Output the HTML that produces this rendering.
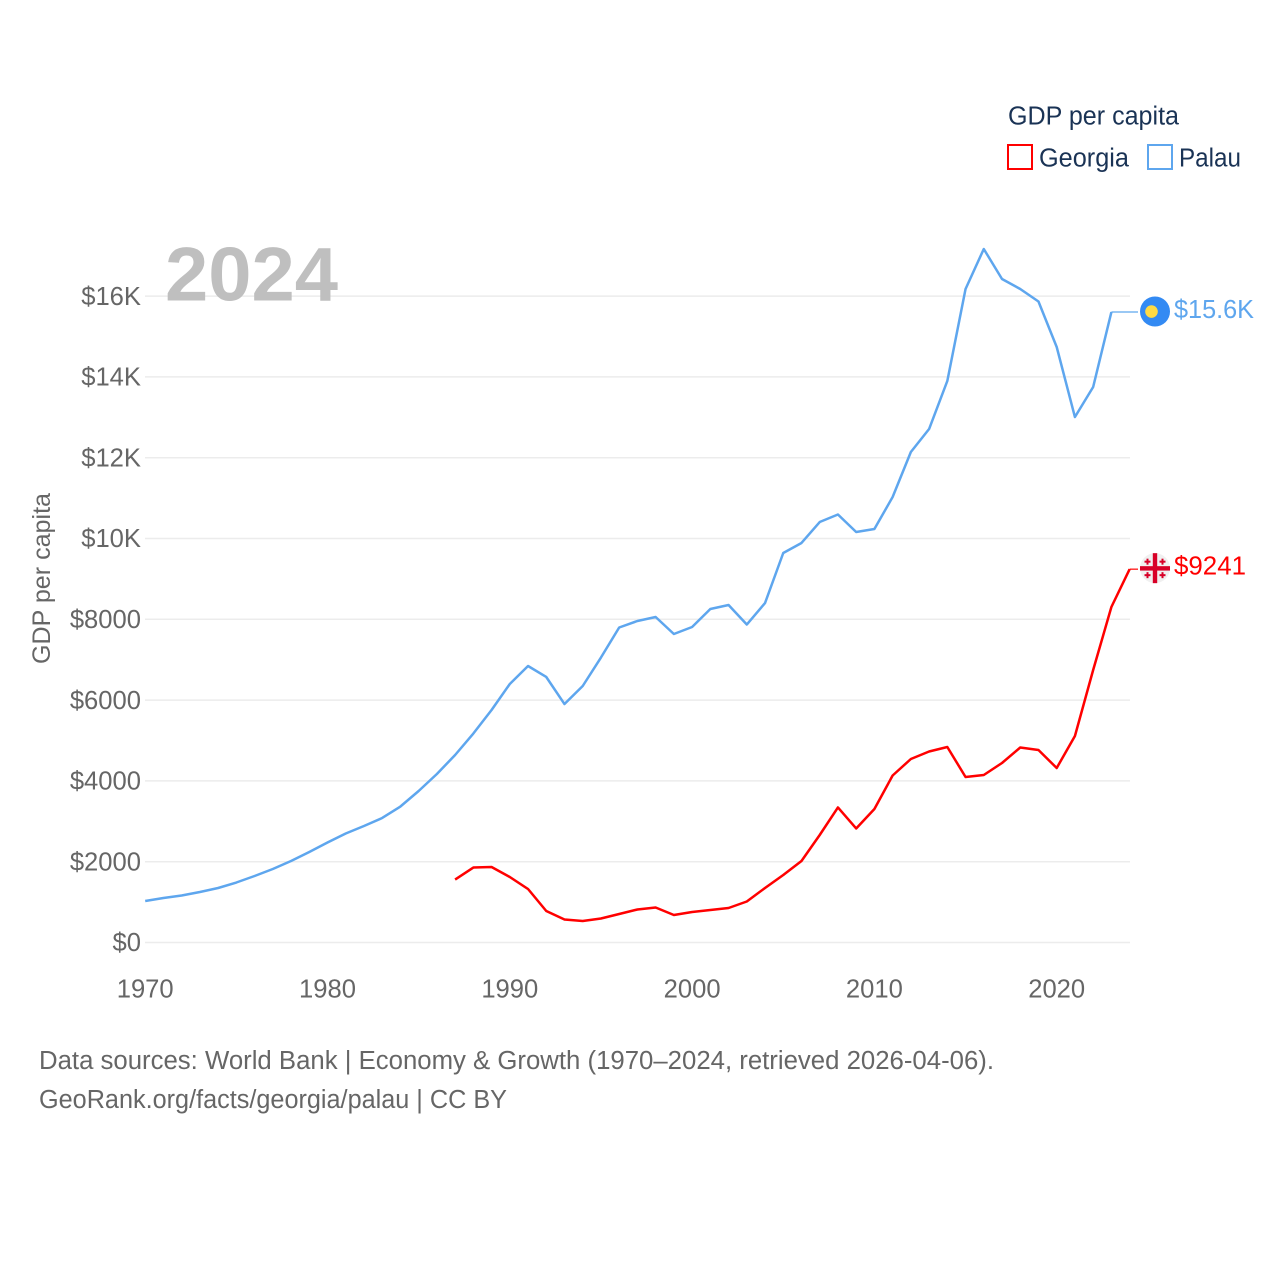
<!DOCTYPE html>
<html lang="en">
<head>
<meta charset="utf-8">
<title>GDP per capita: Georgia and Palau</title>
<style>
html,body{margin:0;padding:0;background:#fff;}
svg{display:block;font-family:"Liberation Sans",sans-serif;}
</style>
</head>
<body>
<svg id="chart" xmlns="http://www.w3.org/2000/svg" width="1280" height="1280" viewBox="0 0 1280 1280">
  <rect width="1280" height="1280" fill="#ffffff"/>
  <g id="grid"></g>
  <text x="165" y="300.5" font-size="76" font-weight="700" fill="#bfbfbf" textLength="173" lengthAdjust="spacingAndGlyphs">2024</text>
  <g id="y-labels" font-size="25.6" fill="#666666" text-anchor="end"></g>
  <g id="x-labels" font-size="25.6" fill="#666666" text-anchor="middle"></g>
  <text transform="translate(50,578.5) rotate(-90)" font-size="25" fill="#666666" text-anchor="middle" textLength="171" lengthAdjust="spacingAndGlyphs">GDP per capita</text>
  <g id="series"></g>
  <g id="ends"></g>
  <g>
    <text x="1008" y="124.5" font-size="25.5" fill="#1a3355" textLength="171" lengthAdjust="spacingAndGlyphs">GDP per capita</text>
    <g>
      <rect x="1008" y="145" width="24" height="24" fill="#ffffff" stroke="#ff0000" stroke-width="2"/>
      <text x="1039" y="166.5" font-size="25.5" fill="#1a3355" textLength="90" lengthAdjust="spacingAndGlyphs">Georgia</text>
    </g>
    <g>
      <rect x="1148" y="145" width="24" height="24" fill="#ffffff" stroke="#5ea6ee" stroke-width="2"/>
      <text x="1179" y="166.5" font-size="25.5" fill="#1a3355" textLength="62" lengthAdjust="spacingAndGlyphs">Palau</text>
    </g>
  </g>
  <text x="39" y="1069" font-size="25.5" fill="#666666" textLength="955" lengthAdjust="spacingAndGlyphs">Data sources: World Bank | Economy &amp; Growth (1970–2024, retrieved 2026-04-06).</text>
  <text x="39" y="1108" font-size="25.5" fill="#666666" textLength="468" lengthAdjust="spacingAndGlyphs">GeoRank.org/facts/georgia/palau | CC BY</text>
</svg>
<script>
const palauStartYear = 1970;
const palauValues = [1027,1101,1163,1250,1349,1485,1646,1819,2017,2240,2475,2698,2884,3082,3366,3750,4171,4641,5173,5755,6399,6844,6572,5903,6349,7054,7797,7958,8057,7636,7809,8255,8354,7871,8403,9641,9889,10408,10594,10161,10235,11027,12141,12710,13899,16176,17166,16423,16176,15866,14740,13007,13750,15606];
const georgiaStartYear = 1987;
const georgiaValues = [1559,1856,1869,1621,1324,780,569,532,594,705,817,866,681,755,804,854,1015,1349,1671,2017,2661,3342,2822,3304,4134,4542,4728,4839,4097,4146,4443,4827,4765,4319,5111,6745,8304,9241];
const yTickValues = [0,2000,4000,6000,8000,10000,12000,14000,16000];
const yTickLabels = ["$0","$2000","$4000","$6000","$8000","$10K","$12K","$14K","$16K"];
const xTickYears = [1970,1980,1990,2000,2010,2020];
const palauEndLabel = "$15.6K";
const georgiaEndLabel = "$9241";

const NS = "http://www.w3.org/2000/svg";
const xScale = function (year) { return 145.2 + (year - 1970) * 18.23; };
const yScale = function (value) { return 942.5 - value * 0.0404; };
const CONNECTOR_END = 1138;
const FLAG_X = 1155;
const LABEL_X = 1174;

function make(tag, attrs, parent) {
  const el = document.createElementNS(NS, tag);
  for (const k in attrs) el.setAttribute(k, attrs[k]);
  parent.appendChild(el);
  return el;
}
function pointsFor(values, startYear) {
  return values.map(function (v, i) {
    return xScale(startYear + i).toFixed(2) + "," + yScale(v).toFixed(2);
  }).join(" ");
}

const grid = document.getElementById("grid");
const yLabels = document.getElementById("y-labels");
const xLabels = document.getElementById("x-labels");
const seriesGroup = document.getElementById("series");
const ends = document.getElementById("ends");

yTickValues.forEach(function (v, i) {
  const line = make("line", {x1: 145, x2: 1130, y1: yScale(v), y2: yScale(v), stroke: "#ececec", "stroke-width": 1.5}, grid);
  
  
  const label = make("text", {x: 141, y: yScale(v) + 8.7}, yLabels);
  label.textContent = yTickLabels[i];
  
  
});

xTickYears.forEach(function (year) {
  const label = make("text", {x: xScale(year), y: 997.7}, xLabels);
  label.textContent = String(year);
  
  
});

const palauLine = make("polyline", {points: pointsFor(palauValues, palauStartYear), fill: "none", stroke: "#5ea6ee", "stroke-width": 2.5, "stroke-linejoin": "round"}, seriesGroup);



const georgiaLine = make("polyline", {points: pointsFor(georgiaValues, georgiaStartYear), fill: "none", stroke: "#ff0000", "stroke-width": 2.5, "stroke-linejoin": "round"}, seriesGroup);



/* Palau end marker */
const palauLast = palauValues[palauValues.length - 1];
const palauLastX = xScale(palauStartYear + palauValues.length - 1);
const palauY = yScale(palauLast);
const palauConnector = make("line", {x1: palauLastX, x2: CONNECTOR_END, y1: palauY, y2: palauY, stroke: "#5ea6ee", "stroke-width": 1.2}, ends);


const palauFlag = make("g", {}, ends);


make("circle", {cx: FLAG_X, cy: palauY - 0.5, r: 15, fill: "#338af3"}, palauFlag);
make("circle", {cx: FLAG_X - 3.5, cy: palauY - 0.5, r: 6.3, fill: "#ffda44"}, palauFlag);
const palauValue = make("text", {x: LABEL_X, y: palauY + 6, "font-size": 25.6, fill: "#5ea6ee", textLength: 80, lengthAdjust: "spacingAndGlyphs"}, ends);
palauValue.textContent = palauEndLabel;



/* Georgia end marker */
const georgiaLast = georgiaValues[georgiaValues.length - 1];
const georgiaLastX = xScale(georgiaStartYear + georgiaValues.length - 1);
const georgiaY = yScale(georgiaLast);
const georgiaConnector = make("line", {x1: georgiaLastX, x2: CONNECTOR_END, y1: georgiaY, y2: georgiaY, stroke: "#ff0000", "stroke-width": 1.2}, ends);


const georgiaFlag = make("g", {}, ends);


make("circle", {cx: FLAG_X, cy: georgiaY - 1, r: 15, fill: "#f0f0f0"}, georgiaFlag);
make("rect", {x: FLAG_X - 15, y: georgiaY - 3, width: 30, height: 4.4, fill: "#d80027"}, georgiaFlag);
make("rect", {x: FLAG_X - 2.2, y: georgiaY - 16, width: 4.4, height: 30, fill: "#d80027"}, georgiaFlag);
[[-7.5,-7.5],[7.5,-7.5],[-7.5,6],[7.5,6]].forEach(function (o) {
  make("rect", {x: FLAG_X + o[0] - 3, y: georgiaY + o[1] - 1, width: 6, height: 2, fill: "#d80027"}, georgiaFlag);
  make("rect", {x: FLAG_X + o[0] - 1, y: georgiaY + o[1] - 3, width: 2, height: 6, fill: "#d80027"}, georgiaFlag);
});
const georgiaValueText = make("text", {x: LABEL_X, y: georgiaY + 5.5, "font-size": 25.6, fill: "#ff0000", textLength: 72, lengthAdjust: "spacingAndGlyphs"}, ends);
georgiaValueText.textContent = georgiaEndLabel;


</script>
</body>
</html>
